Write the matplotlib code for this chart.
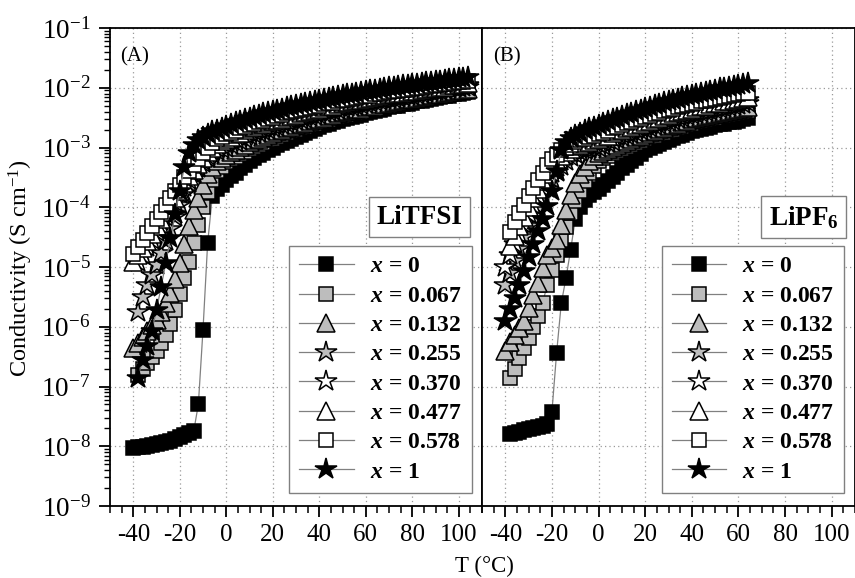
import numpy as np
import matplotlib
matplotlib.use('Agg')
import matplotlib.pyplot as plt
from matplotlib.ticker import LogLocator, MultipleLocator, NullFormatter, FixedLocator, LogFormatterSciNotation
from matplotlib.font_manager import FontProperties

plt.rcParams.update({
    'font.family': ['Liberation Serif', 'DejaVu Serif'],
    'mathtext.fontset': 'custom',
    'mathtext.rm': 'Liberation Serif',
    'mathtext.it': 'Liberation Serif:italic:bold',
    'mathtext.bf': 'Liberation Serif:bold',
    'axes.unicode_minus': False,
})

nan = np.nan
# ---------------- data (log10 of conductivity, S/cm) ----------------
T_A = [-40, -38, -36, -34, -32, -30, -28, -26, -24, -22, -20, -18, -16, -14, -12, -10, -8, -6, -4, -2,
       0, 2, 4, 6, 8, 10, 12, 14, 16, 18, 20, 22, 24, 26, 28, 30, 32, 34, 36, 38, 40,
       42, 44, 46, 48, 50, 52, 54, 56, 58, 60, 62, 64, 66, 68, 70, 72, 74, 76, 78, 80,
       82, 84, 86, 88, 90, 92, 94, 96, 98, 100, 102, 104]

A_x0 = [-8.03, -8.02, -8.01, -8.00, -7.98, -7.97, -7.95, -7.93, -7.91, -7.88,
        -7.85, -7.82, -7.78, -7.75, -7.30, -6.05, -4.60, -3.82, -3.70, -3.62,
        -3.55, -3.48, -3.42, -3.35, -3.29, -3.22, -3.18, -3.13, -3.09, -3.04, -3.00,
        -2.96, -2.93, -2.89, -2.86, -2.82, -2.79, -2.76, -2.72, -2.69, -2.66,
        -2.63, -2.61, -2.58, -2.56, -2.53, -2.51, -2.49, -2.47, -2.45, -2.43,
        -2.41, -2.39, -2.37, -2.35, -2.33, -2.31, -2.30, -2.28, -2.27, -2.25,
        -2.23, -2.22, -2.20, -2.19, -2.17, -2.16, -2.14, -2.13, -2.11, -2.10, -2.08, -2.07]
A_x067 = [nan, -6.80, -6.70, -6.60, -6.50, -6.40, -6.28, -6.14, -5.95, -5.72,
          -5.45, -5.18, -4.92, -4.60, -4.30, -4.00, -3.75, -3.55, -3.40, -3.32,
          -3.25, -3.20, -3.16, -3.11, -3.07, -3.02, -2.99, -2.95, -2.92, -2.88, -2.85,
          -2.82, -2.79, -2.76, -2.73, -2.70, -2.68, -2.65, -2.63, -2.60, -2.58,
          -2.56, -2.54, -2.51, -2.49, -2.47, -2.45, -2.43, -2.42, -2.40, -2.38,
          -2.36, -2.35, -2.33, -2.32, -2.30, -2.28, -2.27, -2.25, -2.24, -2.22,
          -2.21, -2.19, -2.18, -2.16, -2.15, -2.13, -2.12, -2.10, -2.09, -2.07, -2.06, -2.05]
A_x132 = [-6.35, -6.27, -6.17, -6.07, -5.97, -5.88, -5.75, -5.60, -5.43, -5.20,
          -4.93, -4.62, -4.32, -4.05, -3.85, -3.62, -3.45, -3.33, -3.23, -3.17,
          -3.12, -3.08, -3.04, -2.99, -2.95, -2.91, -2.88, -2.85, -2.82, -2.79, -2.76,
          -2.73, -2.71, -2.68, -2.66, -2.63, -2.61, -2.59, -2.56, -2.54, -2.52,
          -2.50, -2.48, -2.45, -2.43, -2.41, -2.39, -2.38, -2.36, -2.35, -2.33,
          -2.31, -2.30, -2.28, -2.27, -2.25, -2.24, -2.22, -2.21, -2.19, -2.18,
          -2.17, -2.15, -2.14, -2.12, -2.11, -2.10, -2.08, -2.07, -2.05, -2.04, -2.03, -2.02]
A_x255 = [nan, -5.75, -5.50, -5.30, -5.13, -4.97, -4.77, -4.57, -4.37, -4.17,
          -3.97, -3.78, -3.60, -3.45, -3.35, -3.26, -3.18, -3.11, -3.06, -3.03,
          -3.00, -2.96, -2.92, -2.89, -2.85, -2.81, -2.78, -2.76, -2.73, -2.71, -2.68,
          -2.66, -2.63, -2.61, -2.58, -2.56, -2.54, -2.52, -2.49, -2.47, -2.45,
          -2.43, -2.41, -2.39, -2.37, -2.35, -2.33, -2.32, -2.30, -2.29, -2.27,
          -2.25, -2.24, -2.22, -2.21, -2.19, -2.18, -2.17, -2.15, -2.14, -2.13,
          -2.12, -2.10, -2.09, -2.07, -2.06, -2.05, -2.04, -2.02, -2.01, -2.00, -1.99, -1.98]
A_x370 = [nan, -4.92, -4.80, -4.67, -4.54, -4.42, -4.30, -4.17, -4.04, -3.91,
          -3.78, -3.66, -3.54, -3.43, -3.33, -3.23, -3.14, -3.06, -3.00, -2.96,
          -2.92, -2.88, -2.85, -2.81, -2.78, -2.74, -2.72, -2.69, -2.67, -2.64, -2.62,
          -2.60, -2.57, -2.55, -2.52, -2.50, -2.48, -2.46, -2.44, -2.42, -2.40,
          -2.38, -2.36, -2.34, -2.32, -2.30, -2.28, -2.27, -2.25, -2.24, -2.22,
          -2.21, -2.19, -2.18, -2.16, -2.15, -2.14, -2.13, -2.11, -2.10, -2.09,
          -2.08, -2.07, -2.05, -2.04, -2.03, -2.02, -2.01, -1.99, -1.98, -1.97, -1.96, -1.95]
A_x477 = [-4.92, -4.80, -4.68, -4.56, -4.44, -4.32, -4.20, -4.08, -3.96, -3.84,
          -3.72, -3.60, -3.48, -3.37, -3.27, -3.17, -3.08, -3.00, -2.94, -2.89,
          -2.85, -2.82, -2.78, -2.75, -2.71, -2.68, -2.66, -2.63, -2.61, -2.58, -2.56,
          -2.54, -2.52, -2.49, -2.47, -2.45, -2.43, -2.41, -2.39, -2.37, -2.35,
          -2.33, -2.31, -2.30, -2.28, -2.26, -2.24, -2.23, -2.21, -2.20, -2.18,
          -2.17, -2.15, -2.14, -2.12, -2.11, -2.10, -2.09, -2.08, -2.07, -2.06,
          -2.05, -2.04, -2.02, -2.01, -2.00, -1.99, -1.98, -1.96, -1.95, -1.94, -1.93, -1.92]
A_x578 = [-4.78, -4.66, -4.54, -4.43, -4.32, -4.20, -4.08, -3.97, -3.85, -3.73,
          -3.62, -3.50, -3.40, -3.30, -3.20, -3.10, -3.00, -2.92, -2.86, -2.82,
          -2.78, -2.75, -2.72, -2.68, -2.65, -2.62, -2.60, -2.57, -2.55, -2.52, -2.50,
          -2.48, -2.46, -2.43, -2.41, -2.39, -2.37, -2.35, -2.34, -2.32, -2.30,
          -2.28, -2.26, -2.25, -2.23, -2.21, -2.20, -2.18, -2.17, -2.15, -2.14,
          -2.13, -2.11, -2.10, -2.08, -2.07, -2.06, -2.05, -2.04, -2.03, -2.02,
          -2.01, -2.00, -1.98, -1.97, -1.96, -1.95, -1.94, -1.93, -1.92, -1.91, -1.90, -1.89]
A_x1 = [nan, -6.86, -6.55, -6.33, -6.07, -5.72, -5.33, -4.93, -4.52, -4.12,
        -3.72, -3.32, -3.10, -2.95, -2.88, -2.82, -2.77, -2.73, -2.70, -2.67,
        -2.64, -2.61, -2.58, -2.56, -2.53, -2.50, -2.48, -2.46, -2.43, -2.41, -2.39,
        -2.37, -2.35, -2.33, -2.31, -2.29, -2.27, -2.26, -2.24, -2.22, -2.20,
        -2.18, -2.17, -2.15, -2.14, -2.12, -2.11, -2.10, -2.08, -2.07, -2.05,
        -2.04, -2.03, -2.02, -2.00, -1.99, -1.98, -1.97, -1.96, -1.95, -1.94,
        -1.93, -1.92, -1.91, -1.90, -1.89, -1.88, -1.87, -1.86, -1.85, -1.84, -1.83, -1.82]

T_B = [-40, -38, -36, -34, -32, -30, -28, -26, -24, -22, -20, -18, -16, -14, -12, -10, -8, -6, -4, -2,
       0, 2, 4, 6, 8, 10, 12, 14, 16, 18, 20, 22, 24, 26, 28, 30, 32, 34, 36, 38, 40,
       42, 44, 46, 48, 50, 52, 54, 56, 58, 60, 62, 64]

B_x0 = [nan, -7.80, -7.78, -7.76, -7.73, -7.71, -7.69, -7.68, -7.66, -7.63,
        -7.42, -6.44, -5.61, -5.19, -4.72, -4.20, -4.00, -3.88, -3.80, -3.75,
        -3.70, -3.63, -3.56, -3.49, -3.42, -3.35, -3.29, -3.23, -3.17, -3.11, -3.05,
        -3.01, -2.98, -2.94, -2.91, -2.87, -2.84, -2.81, -2.79, -2.76, -2.73,
        -2.71, -2.69, -2.67, -2.65, -2.63, -2.61, -2.60, -2.58, -2.57, -2.55, -2.53, -2.51]
B_x067 = [nan, -6.86, -6.70, -6.52, -6.36, -6.18, -6.00, -5.82, -5.60, -5.30,
          -5.05, -4.80, -4.55, -4.33, -4.10, -3.90, -3.72, -3.56, -3.42, -3.31,
          -3.22, -3.18, -3.14, -3.10, -3.06, -3.02, -2.99, -2.96, -2.92, -2.89, -2.86,
          -2.83, -2.80, -2.78, -2.75, -2.72, -2.70, -2.67, -2.65, -2.62, -2.60,
          -2.58, -2.56, -2.54, -2.52, -2.50, -2.48, -2.47, -2.45, -2.44, -2.42, -2.40, -2.39]
B_x132 = [-6.40, -6.26, -6.13, -6.02, -5.90, -5.68, -5.47, -5.26, -5.02, -4.80,
          -4.68, -4.55, -4.30, -4.05, -3.80, -3.60, -3.44, -3.32, -3.22, -3.15,
          -3.10, -3.06, -3.03, -2.99, -2.96, -2.92, -2.89, -2.86, -2.83, -2.80, -2.77,
          -2.74, -2.72, -2.69, -2.67, -2.64, -2.62, -2.60, -2.57, -2.55, -2.53,
          -2.51, -2.49, -2.48, -2.46, -2.44, -2.42, -2.41, -2.39, -2.38, -2.36, -2.34, -2.33]
B_x255 = [-5.30, -5.10, -4.90, -4.70, -4.50, -4.32, -4.15, -3.98, -3.82, -3.67,
          -3.53, -3.41, -3.31, -3.23, -3.16, -3.11, -3.07, -3.04, -3.02, -3.01,
          -3.00, -2.97, -2.93, -2.90, -2.86, -2.83, -2.80, -2.77, -2.75, -2.72, -2.69,
          -2.67, -2.64, -2.62, -2.59, -2.57, -2.55, -2.53, -2.50, -2.48, -2.46,
          -2.44, -2.42, -2.41, -2.39, -2.37, -2.35, -2.34, -2.32, -2.31, -2.29, -2.27, -2.26]
B_x370 = [-5.00, -4.80, -4.62, -4.45, -4.28, -4.12, -3.97, -3.82, -3.68, -3.55,
          -3.43, -3.32, -3.23, -3.15, -3.09, -3.04, -3.00, -2.98, -2.96, -2.95,
          -2.94, -2.91, -2.87, -2.84, -2.80, -2.77, -2.74, -2.71, -2.69, -2.66, -2.63,
          -2.61, -2.58, -2.56, -2.53, -2.51, -2.49, -2.47, -2.45, -2.43, -2.41,
          -2.39, -2.37, -2.36, -2.34, -2.32, -2.30, -2.29, -2.27, -2.26, -2.24, -2.22, -2.21]
B_x477 = [nan, -4.65, -4.48, -4.32, -4.16, -4.00, -3.85, -3.70, -3.56, -3.44,
          -3.33, -3.23, -3.15, -3.08, -3.02, -2.98, -2.95, -2.92, -2.90, -2.88,
          -2.86, -2.83, -2.80, -2.76, -2.73, -2.70, -2.67, -2.65, -2.62, -2.60, -2.57,
          -2.55, -2.52, -2.50, -2.47, -2.45, -2.43, -2.41, -2.39, -2.37, -2.35,
          -2.33, -2.31, -2.30, -2.28, -2.26, -2.25, -2.23, -2.22, -2.20, -2.19, -2.17, -2.16]
B_x578 = [nan, -4.42, -4.25, -4.10, -3.96, -3.82, -3.68, -3.55, -3.42, -3.30,
          -3.20, -3.12, -3.05, -3.00, -2.95, -2.91, -2.88, -2.85, -2.82, -2.80,
          -2.78, -2.75, -2.72, -2.68, -2.65, -2.62, -2.59, -2.57, -2.54, -2.52, -2.49,
          -2.47, -2.44, -2.42, -2.39, -2.37, -2.35, -2.33, -2.31, -2.29, -2.27,
          -2.25, -2.23, -2.22, -2.20, -2.18, -2.17, -2.15, -2.14, -2.12, -2.11, -2.09, -2.08]
B_x1 = [-5.90, -5.70, -5.52, -5.30, -5.06, -4.84, -4.62, -4.40, -4.20, -3.98,
        -3.72, -3.40, -3.05, -2.90, -2.84, -2.79, -2.75, -2.71, -2.68, -2.65,
        -2.62, -2.59, -2.56, -2.53, -2.50, -2.47, -2.44, -2.42, -2.39, -2.37, -2.34,
        -2.32, -2.29, -2.27, -2.24, -2.22, -2.20, -2.18, -2.16, -2.14, -2.12,
        -2.10, -2.08, -2.07, -2.05, -2.03, -2.01, -2.00, -1.98, -1.97, -1.95, -1.93, -1.92]

labels = ['0', '0.067', '0.132', '0.255', '0.370', '0.477', '0.578', '1']
series_A = [A_x0, A_x067, A_x132, A_x255, A_x370, A_x477, A_x578, A_x1]
series_B = [B_x0, B_x067, B_x132, B_x255, B_x370, B_x477, B_x578, B_x1]
x_ticks = [-40, -20, 0, 20, 40, 60, 80, 100]
y_ticks = [1e-9, 1e-8, 1e-7, 1e-6, 1e-5, 1e-4, 1e-3, 1e-2, 1e-1]
for s in series_A:
    assert len(s) == len(T_A), len(s)
for s in series_B:
    assert len(s) == len(T_B), len(s)

# ---------------- styles ----------------
GRAY = '#bdbdbd'
styles = [
    dict(marker='s', mfc='black', ms=10.5),
    dict(marker='s', mfc=GRAY, ms=10.5),
    dict(marker='^', mfc=GRAY, ms=13),
    dict(marker='*', mfc=GRAY, ms=16),
    dict(marker='*', mfc='white', ms=16),
    dict(marker='^', mfc='white', ms=13),
    dict(marker='s', mfc='white', ms=10.5),
    dict(marker='*', mfc='black', ms=16),
]

W, H = 855, 578
fig = plt.figure(figsize=(W / 100, H / 100), dpi=100)
axA = fig.add_axes([110 / W, (H - 506) / H, 372 / W, 478 / H])
axB = fig.add_axes([482 / W, (H - 506) / H, 373 / W, 478 / H])

leg_font = FontProperties(family='Liberation Serif', weight='bold', size=17)

for ax, T, series, name, namex in [(axA, T_A, series_A, 'LiTFSI', 0.832),
                                   (axB, T_B, series_B, r'LiPF$_{\mathdefault{6}}$', 0.862)]:
    for vals, st, lab in zip(series, styles, labels):
        ax.plot(T, 10.0 ** np.array(vals, dtype=float), color='#808080', lw=0.9,
                marker=st['marker'], mfc=st['mfc'], mec='black', mew=1.1, ms=st['ms'],
                label=r'$x$ = ' + lab)
    ax.set_yscale('log')
    ax.set_xlim(-50, 110)
    ax.set_ylim(1e-9, 1e-1)
    ax.set_axisbelow(True)
    ax.grid(True, which='major', ls=(0, (1, 2.5)), color='#9a9a9a', lw=0.9)
    ax.xaxis.set_major_locator(FixedLocator(x_ticks))
    ax.xaxis.set_minor_locator(MultipleLocator(5))
    for sp in ax.spines.values():
        sp.set_linewidth(1.3)
    ax.tick_params(axis='x', which='major', direction='out', length=8, width=1.3,
                   labelsize=18, pad=5)
    ax.tick_params(axis='x', which='minor', direction='out', length=5, width=1.1)
    ax.tick_params(axis='y', which='major', direction='out', length=8, width=1.3,
                   labelsize=19.5, pad=6)
    ax.tick_params(axis='y', which='minor', direction='out', length=4.5, width=1.0)
    ax.yaxis.set_major_locator(FixedLocator(y_ticks))
    ax.yaxis.set_major_formatter(LogFormatterSciNotation())
    ax.yaxis.set_minor_locator(LogLocator(base=10, subs=np.arange(2, 10), numticks=20))
    ax.yaxis.set_minor_formatter(NullFormatter())

    leg = ax.legend(loc='lower right', bbox_to_anchor=(0.972 if ax is axA else 0.9705, 0.028),
                    borderaxespad=0, frameon=True, fancybox=False, framealpha=1,
                    edgecolor='#808080', prop=leg_font, handlelength=2.3,
                    handletextpad=0.68, borderpad=0.42, labelspacing=0.33)
    leg.get_frame().set_linewidth(1.0)
    leg.set_zorder(10)

    ax.text(namex, 0.604, name, transform=ax.transAxes, ha='center', va='center',
            fontsize=19.5, fontweight='bold', zorder=11,
            bbox=dict(boxstyle='square,pad=0.28', fc='white', ec='#808080', lw=1.0))

axB.tick_params(axis='y', which='both', left=False, labelleft=False)

axA.text(0.027, 0.94, '(A)', transform=axA.transAxes, ha='left', va='center', fontsize=15)
axB.text(0.03, 0.94, '(B)', transform=axB.transAxes, ha='left', va='center', fontsize=15)

fig.text(21 / W, 1 - 268 / H, 'Conductivity (S cm$^{\\mathdefault{-1}}$)', rotation=90,
         ha='center', va='center', fontsize=17.5)
fig.text(484 / W, 1 - 566 / H, 'T (°C)', ha='center', va='center', fontsize=16.5)

fig.savefig('out.png', dpi=100)
